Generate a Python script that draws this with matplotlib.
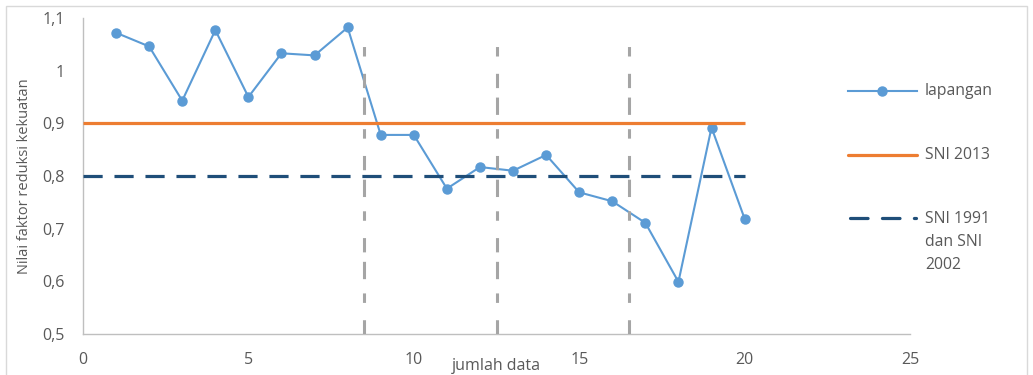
import matplotlib
matplotlib.use("Agg")
import matplotlib.pyplot as plt
from matplotlib.lines import Line2D
from matplotlib.patches import Rectangle
from matplotlib.ticker import FuncFormatter

plt.rcParams['font.family'] = ['Open Sans', 'DejaVu Sans']

# data
x_data = list(range(1, 21))
lapangan = [1.072, 1.046, 0.943, 1.077, 0.950, 1.033, 1.029, 1.082, 0.878, 0.878,
            0.776, 0.817, 0.810, 0.840, 0.769, 0.752, 0.711, 0.599, 0.892, 0.719]
sni2013_x = [0, 20]
sni2013_y = [0.9, 0.9]
sni1991_x = [0, 20]
sni1991_y = [0.8, 0.8]
divider_x = [8.5, 12.5, 16.5]
divider_y = [0.5, 1.05]
x_ticks = [0, 5, 10, 15, 20, 25]
y_ticks = [0.5, 0.6, 0.7, 0.8, 0.9, 1.0, 1.1]

TXT = '#595959'
BLUE = '#5B9BD5'
ORANGE = '#ED7D31'
DARK = '#1F4E79'
GRAY = '#A5A5A5'

W, H = 1033, 375
fig = plt.figure(figsize=(W / 100, H / 100), dpi=100)
ax = fig.add_axes([83 / W, 1 - 334 / H, 827 / W, 316 / H])

ax.plot(x_data, lapangan, color=BLUE, lw=1.5, marker='o', ms=6.5, zorder=3)
ax.plot(sni2013_x, sni2013_y, color=ORANGE, lw=2.3, solid_capstyle='butt', zorder=4)
ax.plot(sni1991_x, sni1991_y, color=DARK, lw=2.3, dashes=(6, 3.7), zorder=4)
for dx in divider_x:
    ax.plot([dx, dx], divider_y, color=GRAY, lw=2.2, dashes=(4.67, 5.67, 3.1), zorder=5)

ax.set_xlim(0, 25)
ax.set_ylim(0.5, 1.1)
ax.set_xticks(x_ticks)
ax.set_yticks(y_ticks)
fmt = FuncFormatter(lambda v, p: ('%g' % round(v, 2)).replace('.', ','))
ax.yaxis.set_major_formatter(fmt)
ax.xaxis.set_major_formatter(FuncFormatter(lambda v, p: '%d' % v))
ax.tick_params(axis='both', length=0, labelsize=11.5, colors=TXT)
ax.tick_params(axis='x', pad=13)
ax.tick_params(axis='y', pad=13)
for s in ['top', 'right']:
    ax.spines[s].set_visible(False)
for s in ['left', 'bottom']:
    ax.spines[s].set_color('#BFBFBF')
    ax.spines[s].set_linewidth(1.0)

ax.set_xlabel('jumlah data', fontsize=11.5, color=TXT)
ax.xaxis.set_label_coords(0.5, (334 - 366) / 316)
ax.xaxis.label.set_va('center')
ax.set_ylabel('Nilai faktor reduksi kekuatan', fontsize=10.5, color=TXT)
ax.yaxis.set_label_coords((25 - 83) / 827, 0.5)
ax.yaxis.label.set_va('center')
ax.yaxis.label.set_ha('center')

# legend (manual)
def fx(px):
    return px / W

def fy(py):
    return 1 - py / H

LFS = 11.3
fig.add_artist(Line2D([fx(848), fx(917)], [fy(91), fy(91)], color=BLUE, lw=1.5))
fig.add_artist(Line2D([fx(882)], [fy(91)], color=BLUE, marker='o', ms=6.5, lw=0))
fig.text(fx(925), fy(91), 'lapangan', fontsize=LFS, color=TXT, va='center', ha='left')
fig.add_artist(Line2D([fx(848), fx(917)], [fy(155), fy(155)], color=ORANGE, lw=2.3,
                      solid_capstyle='round'))
fig.text(fx(925), fy(155), 'SNI 2013', fontsize=LFS, color=TXT, va='center', ha='left')
fig.add_artist(Line2D([fx(850), fx(916)], [fy(218), fy(218)], color=DARK, lw=2.3,
                      dashes=(5.5, 4.5), dash_capstyle='round'))
fig.text(fx(925), fy(219), 'SNI 1991', fontsize=LFS, color=TXT, va='center', ha='left')
fig.text(fx(925), fy(242), 'dan SNI', fontsize=LFS, color=TXT, va='center', ha='left')
fig.text(fx(925), fy(265), '2002', fontsize=LFS, color=TXT, va='center', ha='left')

# outer chart frame
fig.add_artist(Rectangle((6 / W, -0.05), (1027 - 6) / W, 1 - 6 / H + 0.05,
                         transform=fig.transFigure, fill=False,
                         edgecolor='#D9D9D9', lw=1.0))

fig.savefig('out.png', dpi=100)
